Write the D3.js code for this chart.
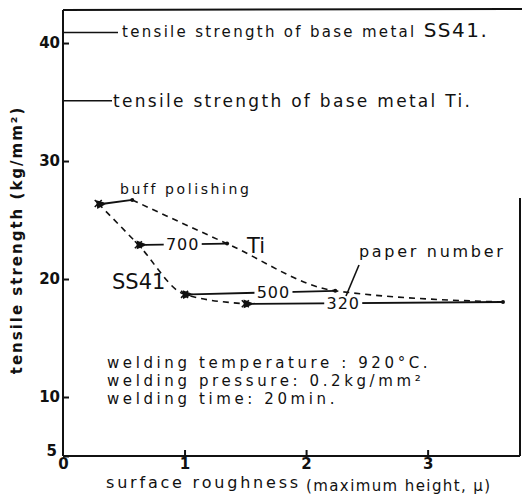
<!DOCTYPE html>
<html>
<head>
<meta charset="utf-8">
<script src="https://cdn.jsdelivr.net/npm/d3@7"></script>
<style>
  body { margin: 0; background: #fff; }
  svg text { font-family: "DejaVu Sans", sans-serif; fill: #111; }
  .axis path, .axis line { stroke: #111; stroke-width: 2; }
  .axis text { font-size: 15px; font-weight: bold; }
</style>
</head>
<body>
<svg id="chart" width="522" height="496"></svg>
<script>
// paper numbers (finish) and points
var finishes = ["buff polishing", "700", "500", "320"];
var ss41Roughness = [0.29, 0.62, 1.00, 1.50];
var ss41Strength  = [26.4, 22.9, 18.7, 17.9];
var tiRoughness   = [0.57, 1.35, 2.24, 3.62];
var tiStrength    = [26.7, 23.0, 19.0, 18.05];

var baseSS41 = 40.9, baseTi = 35.1;
var yTicks = [5, 10, 20, 30, 40];
var xTicks = [0, 1, 2, 3];

var svg = d3.select("#chart");

var x = d3.scaleLinear().domain([0, 3.76]).range([63, 520]);
var y = d3.scaleLinear().domain([5, 42.8]).range([456, 10]);

var ss41 = ss41Roughness.map((d, i) => ({x: d, y: ss41Strength[i]}));
var ti = tiRoughness.map((d, i) => ({x: d, y: tiStrength[i]}));

// frame (top and partial right edge like the scan)
svg.append("line").attr("x1", x(0)).attr("x2", 522).attr("y1", 10).attr("y2", 9)
  .attr("stroke", "#111").attr("stroke-width", 2);
svg.append("line").attr("x1", 520).attr("x2", 520).attr("y1", 198).attr("y2", y(5))
  .attr("stroke", "#111").attr("stroke-width", 2);

// axes
var yAxis = svg.append("g").attr("class", "axis")
  .attr("transform", "translate(" + x(0) + ",0)")
  .call(d3.axisLeft(y).tickValues(yTicks).tickFormat(d3.format("d"))
    .tickSizeInner(-6).tickSizeOuter(0).tickPadding(3));
yAxis.select(".domain").attr("d", "M0," + y(42.8) + "V" + y(5));
yAxis.selectAll(".tick").filter(d => d === 5).select("text").attr("dy", "-0.05em").attr("x", -6);

var xAxis = svg.append("g").attr("class", "axis")
  .attr("transform", "translate(0," + y(5) + ")")
  .call(d3.axisBottom(x).tickValues(xTicks).tickFormat(d3.format("d"))
    .tickSizeInner(-6).tickSizeOuter(0).tickPadding(2));
xAxis.select(".domain").attr("d", "M" + x(0) + ",0H520");
xAxis.selectAll(".tick").filter(d => d === 0).select("line").remove();
xAxis.selectAll(".tick text").attr("y", 2).attr("font-weight", "normal").attr("font-size", 12);

// base metal lines
svg.append("line").attr("x1", x(0)).attr("x2", 118).attr("y1", y(baseSS41)).attr("y2", y(baseSS41))
  .attr("stroke", "#111").attr("stroke-width", 1.5);
svg.append("text").attr("x", 122).attr("y", y(baseSS41) + 5)
  .attr("font-size", 15).attr("letter-spacing", 2.3)
  .text("tensile strength of base metal ")
  .append("tspan").attr("font-size", 20).attr("letter-spacing", 1.5).text("SS41.");
svg.append("line").attr("x1", x(0)).attr("x2", 112).attr("y1", y(baseTi)).attr("y2", y(baseTi))
  .attr("stroke", "#111").attr("stroke-width", 1.5);
svg.append("text").attr("x", 113).attr("y", y(baseTi) + 6)
  .attr("font-size", 17).attr("letter-spacing", 2.3)
  .text("tensile strength of base metal Ti.");

// dashed curves
var line = d3.line().x(d => x(d.x)).y(d => y(d.y)).curve(d3.curveMonotoneX);
[ss41, ti].forEach(s => {
  svg.append("path").datum(s).attr("d", line)
    .attr("fill", "none").attr("stroke", "#111").attr("stroke-width", 1.6)
    .attr("stroke-dasharray", "6,5");
});

// arrows from Ti to SS41 for the same paper number
svg.append("defs").append("marker").attr("id", "head")
  .attr("viewBox", "0 0 10 10").attr("refX", 2).attr("refY", 5)
  .attr("markerWidth", 8).attr("markerHeight", 6).attr("orient", "auto")
  .append("path").attr("d", "M10,1L0,5L10,9z").attr("fill", "#111");

var labelAt = [null, 0.5, 0.59, 0.38];
finishes.forEach((f, i) => {
  var a = ti[i], b = ss41[i];
  var x1 = x(a.x), y1 = y(a.y), x2 = x(b.x) + 7, y2 = y(b.y);
  svg.append("line").attr("x1", x1).attr("y1", y1).attr("x2", x2).attr("y2", y2)
    .attr("stroke", "#111").attr("stroke-width", 1.8)
    .attr("marker-end", "url(#head)");
  if (labelAt[i] != null) {
    var lx = x(b.x) + (x1 - x(b.x)) * labelAt[i];
    var ly = y2 + (y1 - y2) * labelAt[i];
    svg.append("rect").attr("x", lx - 19).attr("y", ly - 8).attr("width", 38).attr("height", 16).attr("fill", "#fff");
    svg.append("text").attr("x", lx).attr("y", ly + 6).attr("text-anchor", "middle")
      .attr("font-size", 16).attr("letter-spacing", 1).text(f);
  }
});

// markers
svg.selectAll(".cross").data(ss41).enter().append("path")
  .attr("d", d => { var cx = x(d.x), cy = y(d.y), r = 3.5;
    return "M" + (cx - r) + "," + (cy - r) + "L" + (cx + r) + "," + (cy + r) +
           "M" + (cx - r) + "," + (cy + r) + "L" + (cx + r) + "," + (cy - r); })
  .attr("stroke", "#111").attr("stroke-width", 1.6);
svg.selectAll(".dot").data(ti).enter().append("circle")
  .attr("cx", d => x(d.x)).attr("cy", d => y(d.y)).attr("r", 2).attr("fill", "#111");

// labels
svg.append("text").attr("x", 120).attr("y", 194).attr("font-size", 14).attr("letter-spacing", 2.6)
  .text(finishes[0]);
svg.append("text").attr("x", 247).attr("y", 253).attr("font-size", 21).text("Ti");
svg.append("text").attr("x", 112).attr("y", 289).attr("font-size", 21).text("SS41");
svg.append("text").attr("x", 359).attr("y", 257).attr("font-size", 16).attr("letter-spacing", 2.7)
  .text("paper number");
svg.append("line").attr("x1", 359).attr("y1", 265).attr("x2", 346).attr("y2", 296)
  .attr("stroke", "#111").attr("stroke-width", 1.6);

var cond = ["welding  temperature : 920°C.", "welding  pressure: 0.2kg/mm²", "welding time: 20min."];
svg.append("g").selectAll("text").data(cond).enter().append("text")
  .attr("x", 107).attr("y", (d, i) => 368 + i * 18)
  .attr("font-size", 15).attr("letter-spacing", 3.6).text(d => d);

// axis titles
svg.append("text").attr("transform", "translate(22,240) rotate(-90)")
  .attr("text-anchor", "middle").attr("font-size", 15).attr("font-weight", "bold").attr("letter-spacing", 2)
  .text("tensile strength (kg/mm²)");
svg.append("text").attr("x", 106).attr("y", 488).attr("font-size", 16).attr("letter-spacing", 2.8)
  .text("surface roughness");
svg.append("text").attr("x", 306).attr("y", 491).attr("font-size", 15).attr("letter-spacing", 1.4)
  .text("(maximum height, μ)");
</script>
</body>
</html>
